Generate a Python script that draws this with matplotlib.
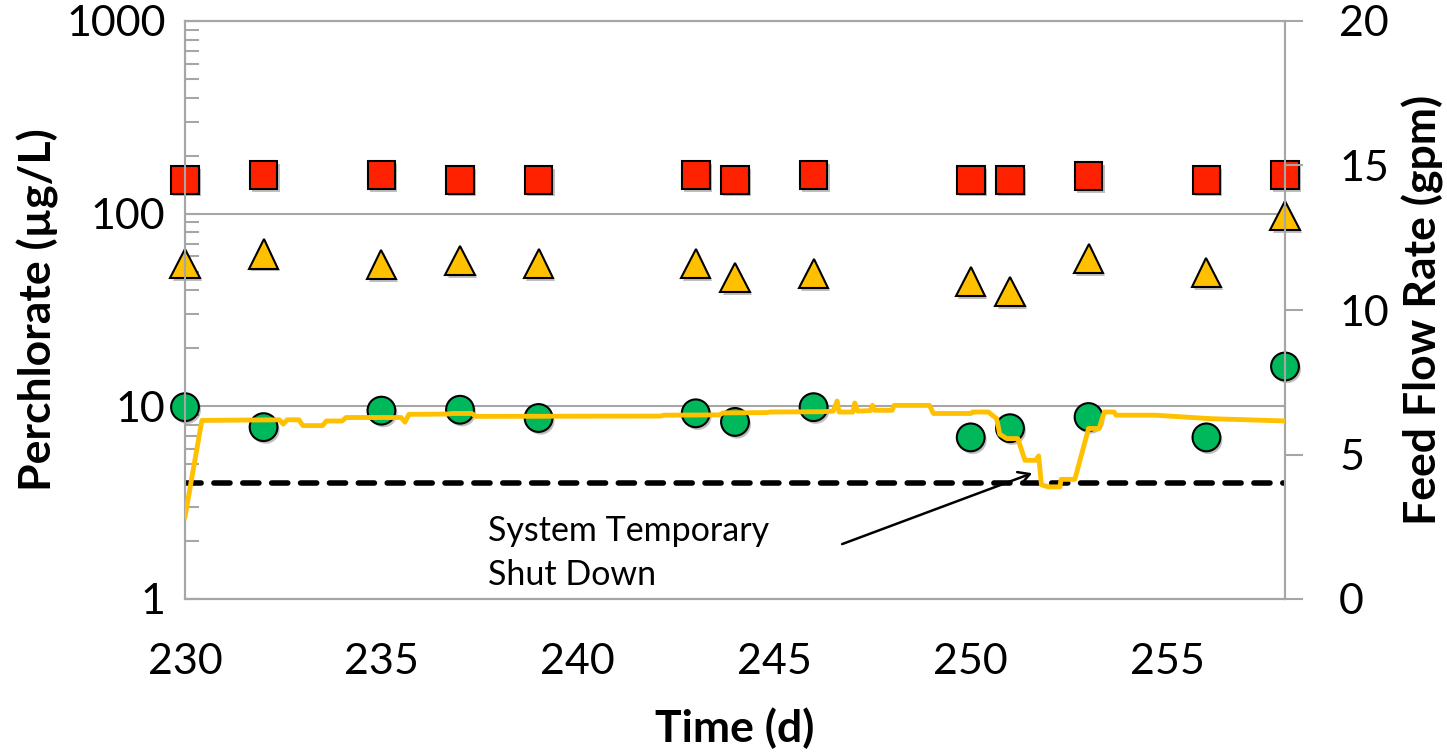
import matplotlib
matplotlib.use("Agg")
import matplotlib.pyplot as plt
import matplotlib.patheffects as pe
from matplotlib.ticker import LogLocator, FixedLocator, NullFormatter

plt.rcParams['font.family'] = ['Lato', 'DejaVu Sans']

# ---- data ----
sample_days = [230, 232, 235, 237, 239, 243, 244, 246, 250, 251, 253, 256, 258]
influent = [150, 159, 159, 150, 150, 159, 150, 159, 150, 150, 157, 150, 159]
midpoint = [55, 61.7, 54.4, 57, 55, 55, 46.6, 48.9, 44.4, 39.4, 58.5, 49.5, 98]
effluent = [9.9, 7.8, 9.5, 9.6, 8.7, 9.2, 8.3, 9.9, 6.9, 7.7, 8.8, 6.9, 16.1]

flow_days = [230.00, 230.43, 232.40, 232.50, 232.60, 232.90, 233.00, 233.50, 233.60,
             234.00, 234.10, 235.50, 235.60, 235.70, 236.70, 236.80, 237.30, 237.40,
             242.10, 242.20, 243.60, 243.70, 244.80, 244.90, 246.20, 246.50, 246.60,
             246.65, 247.00, 247.05, 247.12, 247.45, 247.50, 247.55, 248.00, 248.05,
             248.95, 249.05, 250.00, 250.05, 250.45, 250.66, 250.74, 250.92, 251.20,
             251.38, 251.65, 251.73, 251.80, 251.98, 252.27, 252.30, 252.65, 253.00,
             253.27, 253.40, 253.65, 253.70, 254.70, 256.10, 258.00]
flow_gpm = [2.85, 6.18, 6.20, 6.05, 6.20, 6.20, 6.00, 6.00, 6.16,
            6.16, 6.28, 6.28, 6.12, 6.39, 6.40, 6.42, 6.42, 6.32,
            6.33, 6.36, 6.37, 6.44, 6.45, 6.47, 6.48, 6.50, 6.85,
            6.47, 6.47, 6.78, 6.50, 6.52, 6.70, 6.53, 6.53, 6.70,
            6.70, 6.42, 6.42, 6.47, 6.47, 6.24, 5.70, 5.55, 5.55,
            4.80, 4.80, 4.95, 3.95, 3.88, 3.88, 4.14, 4.14, 5.90,
            5.90, 6.47, 6.47, 6.36, 6.36, 6.24, 6.16]

limit_value = 4  # ug/L

x_ticks = [230, 235, 240, 245, 250, 255]
y_ticks = [1, 10, 100, 1000]
y2_ticks = [0, 5, 10, 15, 20]

GRID = '#A6A6A6'

fig = plt.figure(figsize=(14.47, 7.55), dpi=100)
ax = fig.add_axes([185/1447, 1-599/755, (1285-185)/1447, (599-21)/755])
ax2 = ax.twinx()

shadow = [pe.SimplePatchShadow(offset=(1.5, -2), alpha=0.25, shadow_rgbFace='black'), pe.Normal()]

ax.set_yscale('log')
ax.set_ylim(1, 1000)
ax.set_xlim(230, 258)

ax.axhline(limit_value, color='black', lw=4, ls=(0, (2.9, 2.3)), dash_capstyle='round', zorder=2)

ax.plot(sample_days, influent, ls='none', marker='s', ms=20, mfc='#FF2200', mec='black',
        mew=1.5, zorder=4, path_effects=shadow, clip_on=False)
ax.plot(sample_days, midpoint, ls='none', marker='^', ms=21, mfc='#FFC000', mec='black',
        mew=1.5, zorder=4, path_effects=shadow, clip_on=False)
ax.plot(sample_days, effluent, ls='none', marker='o', ms=20, mfc='#00B85C', mec='black',
        mew=1.5, zorder=4, path_effects=shadow, clip_on=False)

ax2.plot(flow_days, flow_gpm, color='#FFC000', lw=3.5, solid_joinstyle='round', zorder=5)
ax2.set_ylim(0, 20)

# grid and spines
ax.yaxis.set_major_locator(FixedLocator(y_ticks))
ax.yaxis.set_minor_locator(LogLocator(base=10, subs=range(2, 10)))
ax.yaxis.set_minor_formatter(NullFormatter())
ax.set_yticklabels([str(v) for v in y_ticks])
ax.grid(True, axis='y', which='major', color=GRID, lw=1.5, zorder=0)
ax.set_axisbelow(True)
ax.set_xticks(x_ticks)
ax.set_xticklabels([str(v) for v in x_ticks])
ax2.set_yticks(y2_ticks)
ax2.set_yticklabels([str(v) for v in y2_ticks])

for a in (ax, ax2):
    for s in a.spines.values():
        s.set_color(GRID)
        s.set_linewidth(1.5)
ax.spines['top'].set_visible(True)

ax.tick_params(axis='y', which='both', direction='in', length=10, width=1.5, color=GRID,
               labelsize=31, pad=14)
ax.tick_params(axis='x', length=0, labelsize=31, pad=32)
ax2.tick_params(axis='y', direction='out', length=13, width=1.5, color=GRID,
                labelsize=31, pad=26)

ax.set_xlabel('Time (d)', fontsize=32, fontweight='bold', labelpad=19)
ax.set_ylabel('Perchlorate (µg/L)', fontsize=32, fontweight='bold', labelpad=5)
ax2.set_ylabel('Feed Flow Rate (gpm)', fontsize=32, fontweight='bold', labelpad=9)

ax.annotate('', xy=(251.63, 4.55), xytext=(246.66, 1.905),
            arrowprops=dict(arrowstyle='->,head_length=0.8,head_width=0.45', color='black', lw=1.8))
ax.text(237.7, 2.72, 'System Temporary\nShut Down', fontsize=24.5, va='top', ha='left',
        linespacing=1.45)

fig.savefig('out.png', dpi=100)
